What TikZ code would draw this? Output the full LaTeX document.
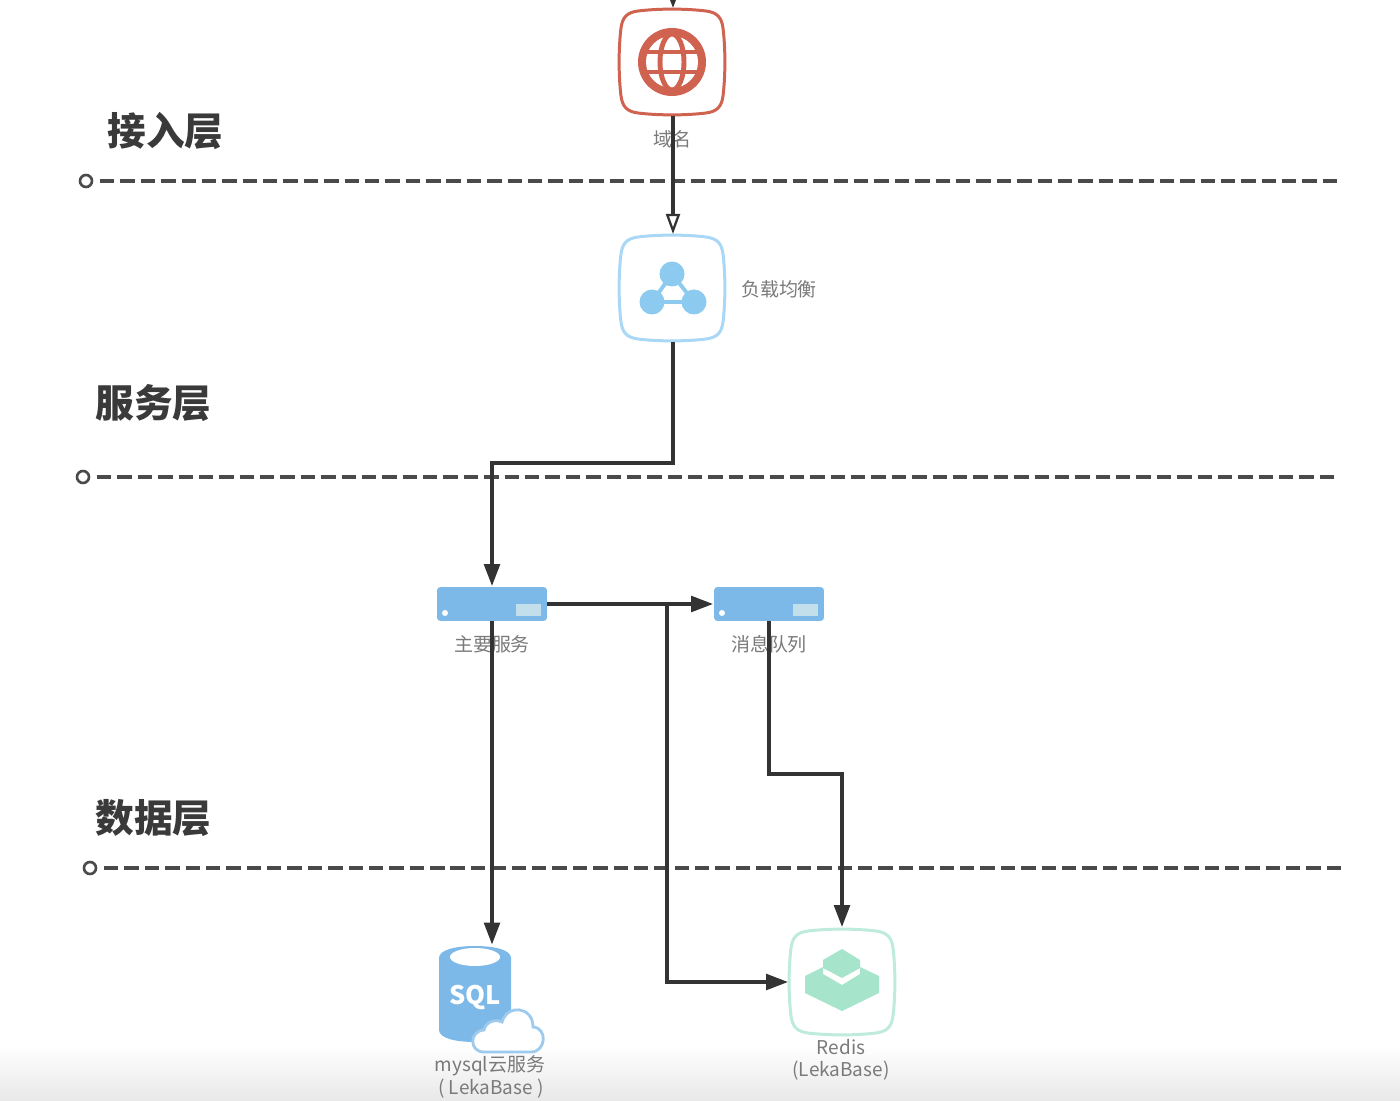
\documentclass[tikz,border=0pt]{standalone}
\usepackage{fontspec}
\setmainfont{Noto Sans CJK SC}
\usetikzlibrary{arrows.meta,calc}
\definecolor{linedark}{HTML}{333333}
\definecolor{dashgray}{HTML}{4A4A4A}
\definecolor{labelgray}{HTML}{7A7A7A}
\definecolor{headgray}{HTML}{3A3A3A}
\definecolor{webred}{HTML}{CF6350}
\definecolor{lbblue}{HTML}{8CCAF0}
\definecolor{lbedge}{HTML}{A8D8F5}
\definecolor{srvblue}{HTML}{7DB9E8}
\definecolor{srvpale}{HTML}{C4DFEC}
\definecolor{mint}{HTML}{A6E4CB}
\definecolor{mintedge}{HTML}{BEEBDA}
\tikzset{
  x=0.02cm, y=-0.02cm,
  iconbox/.style={minimum size=2.12cm, inner sep=0pt, outer sep=0pt},
  serverbox/.style={minimum width=2.2cm, minimum height=0.68cm, inner sep=0pt, outer sep=0pt,
    fill=srvblue, rounded corners=2pt},
  dbbox/.style={minimum width=1.44cm, minimum height=1.94cm, inner sep=0pt, outer sep=0pt},
  heading/.style={font=\fontsize{22pt}{24pt}\selectfont\bfseries, text=headgray, inner sep=0pt},
  caption/.style={font=\fontsize{10.8pt}{13pt}\selectfont, text=labelgray, inner sep=0pt},
  flow/.style={draw=linedark, line width=1.8pt},
  solidtip/.style={-{Triangle[length=12.5pt,width=9pt]}},
  opentip/.style={-{Triangle[open,fill=white,length=11.5pt,width=8pt,line width=1.3pt]}},
  layerline/.style={draw=dashgray, line width=1.75pt, dash pattern=on 8.2pt off 3.4pt},
  layerdot/.style={circle, draw=dashgray, line width=1.5pt, fill=white, minimum size=0.24cm, inner sep=0pt, outer sep=0pt},
}
% rounded square with slightly bulging sides, centred on a node
\newcommand{\softsquare}[2]{%
  \begin{scope}[shift={(#1)}]
    \draw[#2, line width=1.7pt, fill=white]
      (-34,-51) .. controls (-14,-53.5) and (14,-53.5) .. (34,-51)
      .. controls (45,-49.5) and (49.5,-45) .. (51,-34)
      .. controls (53.5,-14) and (53.5,14) .. (51,34)
      .. controls (49.5,45) and (45,49.5) .. (34,51)
      .. controls (14,53.5) and (-14,53.5) .. (-34,51)
      .. controls (-45,49.5) and (-49.5,45) .. (-51,34)
      .. controls (-53.5,14) and (-53.5,-14) .. (-51,-34)
      .. controls (-49.5,-45) and (-45,-49.5) .. (-34,-51) -- cycle;
  \end{scope}}
\begin{document}
\begin{tikzpicture}
\useasboundingbox (0,0) rectangle (1400,1101);
\fill[white] (0,0) rectangle (1400,1101);
\shade[top color=white, bottom color=black!9] (0,1045) rectangle (1400,1101);

% layer separators
\node[layerdot] (dotA) at (86,181) {};
\coordinate (endA) at (1341,181);
\node[layerdot] (dotB) at (83,477) {};
\coordinate (endB) at (1338,477);
\node[layerdot] (dotC) at (90,868) {};
\coordinate (endC) at (1345,868);
\draw[layerline] ($(dotA.east)+(8,0)$) -- (endA);
\draw[layerline] ($(dotB.east)+(8,0)$) -- (endB);
\draw[layerline] ($(dotC.east)+(8,0)$) -- (endC);

% layer titles
\node[heading] (titleA) at (165.5,131) {接入层};
\node[heading] (titleB) at (153.5,403) {服务层};
\node[heading] (titleC) at (153.5,818) {数据层};

% icon anchors
\node[iconbox] (domain) at (672,62) {};
\node[iconbox] (balancer) at (672,288) {};
\node[serverbox] (mainsrv) at (492,604) {};
\node[serverbox] (queue) at (769,604) {};
\node[dbbox] (sqldb) at (475,994) {};
\node[iconbox] (redis) at (842,982) {};

% domain icon: globe
\softsquare{domain.center}{webred}
\begin{scope}[shift={(domain.center)}]
  \fill[webred] (0,0) circle [radius=34];
  \fill[white] (0,0) circle [radius=26];
  \begin{scope}
    \clip (0,0) circle [radius=30];
    \draw[webred, line width=2.8pt] (0,0) ellipse [x radius=12, y radius=28];
    \draw[webred, line width=2.8pt] (-34,-10) -- (34,-10) (-34,10) -- (34,10);
  \end{scope}
\end{scope}

% load balancer icon
\softsquare{balancer.center}{lbedge}
\begin{scope}[shift={(balancer.center)}]
  \draw[lbblue, line width=2.2pt] (0,-14) -- (-20,14) -- (22,14) -- cycle;
  \fill[lbblue] (0,-14) circle [radius=12.5];
  \fill[lbblue] (-20,14) circle [radius=12.5];
  \fill[lbblue] (22,14) circle [radius=12.5];
\end{scope}

% server details
\foreach \s in {mainsrv,queue}{
  \fill[white] ($(\s.center)+(-47,9)$) circle [radius=3];
  \fill[srvpale] ($(\s.center)+(24,0)$) rectangle ($(\s.center)+(49,12)$);
}

% database icon: cylinder with a cloud
\begin{scope}[shift={(sqldb.center)}]
  \fill[srvblue] (-36,-36) .. controls (-36,-44) and (-20,-48) .. (0,-48)
    .. controls (20,-48) and (36,-44) .. (36,-36) -- (36,36)
    .. controls (36,44) and (20,48) .. (0,48)
    .. controls (-20,48) and (-36,44) .. (-36,36) -- cycle;
  \fill[white] (0,-37) ellipse [x radius=25, y radius=9];
  \node[font=\fontsize{14.5pt}{16pt}\selectfont\bfseries, text=white, inner sep=0pt] (sqltext) at (0,4) {SQL};
  \draw[srvblue!75!white, line width=1.6pt, fill=white]
    (9,58) .. controls (-6,58) and (-6,37) .. (9,36)
    .. controls (11,27) and (21,25) .. (27,28)
    .. controls (32,10) and (58,12) .. (58,33)
    .. controls (73,34) and (71,58) .. (56,58) -- cycle;
\end{scope}

% redis icon: stacked blocks
\softsquare{redis.center}{mintedge}
\begin{scope}[shift={(redis.center)}]
  \fill[mint] (-37,-6) -- (-19,-15) -- (-19,-8) -- (0,3) -- (18,-8) -- (18,-15) -- (37,-6)
    -- (37,11) -- (0,29) -- (-37,11) -- cycle;
  \fill[mint] (-19,-22) -- (0,-33) -- (18,-22) -- (18,-14) -- (0,-4) -- (-19,-14) -- cycle;
\end{scope}

% captions
\node[caption] (capDomain) at (672,139) {域名};
\node[caption] (capBalancer) at (779,289) {负载均衡};
\node[caption] (capMain) at (492,644) {主要服务};
\node[caption] (capQueue) at (769,644) {消息队列};
\node[caption] (capSqlA) at (490,1066) {mysql云服务};
\node[caption] (capSqlB) at (491,1089) {( LekaBase )};
\node[caption] (capRedisA) at (841,1047) {Redis};
\node[caption] (capRedisB) at (841,1071) {(LekaBase)};

% connectors
\coordinate (entry) at (673,-24);
\coordinate (branch) at (667,604);
\draw[flow, solidtip] (entry) -- ($(domain.north)+(1,-1)$);
\draw[flow, opentip] ($(domain.south)+(1,1)$) -- ($(balancer.north)+(1,-1)$);
\draw[flow, solidtip] ($(balancer.south)+(1,1)$) |- (492,463) -- ($(mainsrv.north)+(0,-1)$);
\draw[flow, solidtip] (mainsrv.east) -- ($(queue.west)+(-1,0)$);
\draw[flow, solidtip] (branch) |- ($(redis.west)+(-1,0)$);
\draw[flow, solidtip] (mainsrv.south) -- ($(sqldb.north)+(17,-1)$);
\draw[flow, solidtip] (queue.south) |- (842,774) -- ($(redis.north)+(0,-2)$);
\end{tikzpicture}
\end{document}
